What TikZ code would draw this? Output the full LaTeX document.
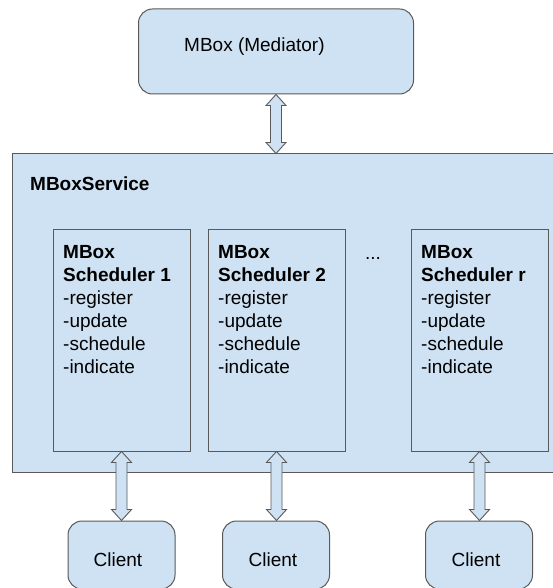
\documentclass[tikz,border=0pt]{standalone}
\usepackage{fontspec}
\setmainfont{Liberation Sans}
\usetikzlibrary{calc}
\definecolor{boxfill}{HTML}{CFE2F3}
\definecolor{boxline}{HTML}{595959}
\tikzset{
  rbox/.style={draw=boxline, fill=boxfill, line width=1pt, rounded corners=14pt, inner sep=0pt},
  sbox/.style={draw=boxline, fill=boxfill, line width=1pt, inner sep=0pt},
  schbox/.style={draw=boxline, fill=boxfill, line width=0.9pt, inner sep=0pt},
  txt/.style={inner sep=0pt, font=\fontsize{19pt}{23pt}\selectfont, text=black},
  dblarr/.style={draw=boxline, fill=boxfill, line width=0.9pt, line join=miter},
}
\newcommand\vdarrow[2]{%
  \draw[dblarr] let \p1=(#1), \p2=(#2) in
    (\x1,\y1) -- (\x1+10pt,\y1-11pt) -- (\x1+5.5pt,\y1-11pt) -- (\x1+5.5pt,\y2+11pt)
    -- (\x1+10pt,\y2+11pt) -- (\x1,\y2) -- (\x1-10pt,\y2+11pt) -- (\x1-5.5pt,\y2+11pt)
    -- (\x1-5.5pt,\y1-11pt) -- (\x1-10pt,\y1-11pt) -- cycle;}
\begin{document}
\begin{tikzpicture}[x=1pt,y=-1pt]
\useasboundingbox (0,0) rectangle (553,588);
\clip (0,0) rectangle (553,588);
% mediator
\node[rbox, minimum width=275pt, minimum height=85pt] (med) at (276,51.5) {};
\node[txt, anchor=west] (medtxt) at (184,47) {MBox (Mediator)};
% service
\node[sbox, minimum width=560pt, minimum height=318pt] (svc) at (292,313) {};
\node[txt, anchor=base west, font=\fontsize{19pt}{23pt}\selectfont\bfseries] (svctxt) at (30,190.7) {MBoxService};
% schedulers
\node[schbox, minimum width=137pt, minimum height=222pt] (s1) at (121.5,340) {};
\node[schbox, minimum width=137pt, minimum height=222pt] (s2) at (276.5,340) {};
\node[schbox, minimum width=137pt, minimum height=222pt] (sr) at (479.5,340) {};
\foreach \n/\xx/\k in {t1/63/1, t2/218/2, tr/421/r}{
  \node[txt, anchor=north west, align=left] (\n) at (\xx,245.4)
    {\textbf{MBox}\\\textbf{Scheduler \k}\\-register\\-update\\-schedule\\-indicate};
}
\node[txt, anchor=base] (dots) at (373,259) {...};
% clients
\node[rbox, minimum width=107pt, minimum height=68pt] (c1) at (121.5,555) {};
\node[rbox, minimum width=107pt, minimum height=68pt] (c2) at (276,555) {};
\node[rbox, minimum width=107pt, minimum height=68pt] (c3) at (479,555) {};
\node[txt, anchor=base] (c1t) at (118,566.7) {Client};
\node[txt, anchor=base] (c2t) at (273,566.7) {Client};
\node[txt, anchor=base] (c3t) at (476,566.7) {Client};
% arrows
\vdarrow{med.south}{svc.north}
\vdarrow{s1.south}{c1.north}
\vdarrow{s2.south}{c2.north}
\vdarrow{sr.south}{c3.north}
\end{tikzpicture}
\end{document}
